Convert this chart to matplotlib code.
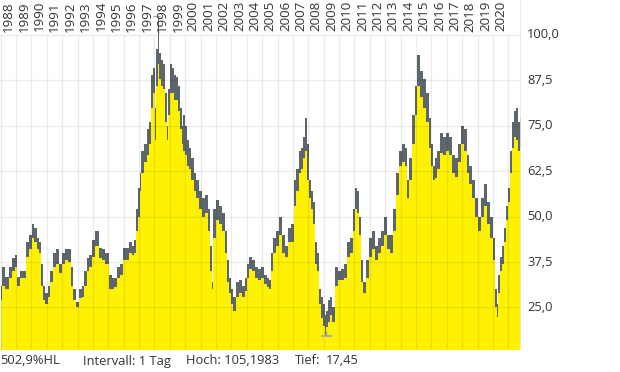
import matplotlib
matplotlib.use("Agg")
import matplotlib.pyplot as plt

# ---- data (decimal years, high / low values) ----
dates = [1988.00, 1988.16, 1988.42, 1988.61, 1988.81, 1989.00, 1989.13, 1989.39, 1989.59, 1989.72,
         1989.91, 1990.11, 1990.24, 1990.43, 1990.56, 1990.69, 1990.82, 1990.95, 1991.15, 1991.28,
         1991.47, 1991.67, 1991.86, 1992.06, 1992.25, 1992.45, 1992.64, 1992.77, 1992.97, 1993.16,
         1993.36, 1993.49, 1993.68, 1993.81, 1994.01, 1994.27, 1994.46, 1994.66, 1994.92, 1995.11,
         1995.31, 1995.44, 1995.63, 1995.83, 1996.02, 1996.22, 1996.41, 1996.61, 1996.74, 1996.87,
         1997.00, 1997.09, 1997.19, 1997.39, 1997.58, 1997.71, 1997.84, 1997.97, 1998.07, 1998.17,
         1998.26, 1998.36, 1998.49, 1998.62, 1998.75, 1998.85, 1998.95, 1999.08, 1999.21, 1999.34,
         1999.47, 1999.60, 1999.73, 1999.82, 1999.92, 2000.05, 2000.18, 2000.31, 2000.44, 2000.64,
         2000.77, 2000.96, 2001.16, 2001.35, 2001.55, 2001.68, 2001.77, 2001.87, 2002.07, 2002.26,
         2002.46, 2002.65, 2002.78, 2002.91, 2003.04, 2003.17, 2003.37, 2003.56, 2003.76, 2003.95,
         2004.08, 2004.21, 2004.41, 2004.60, 2004.80, 2004.99, 2005.19, 2005.38, 2005.51, 2005.64,
         2005.77, 2005.97, 2006.16, 2006.36, 2006.55, 2006.75, 2006.94, 2007.14, 2007.27, 2007.46,
         2007.59, 2007.72, 2007.85, 2007.98, 2008.11, 2008.24, 2008.37, 2008.50, 2008.63, 2008.76,
         2008.89, 2009.02, 2009.12, 2009.22, 2009.35, 2009.48, 2009.61, 2009.80, 2010.00, 2010.19,
         2010.39, 2010.58, 2010.78, 2010.97, 2011.10, 2011.23, 2011.36, 2011.49, 2011.62, 2011.82,
         2012.01, 2012.21, 2012.40, 2012.60, 2012.79, 2012.99, 2013.18, 2013.38, 2013.57, 2013.77,
         2013.96, 2014.16, 2014.35, 2014.48, 2014.61, 2014.81, 2015.00, 2015.16, 2015.33, 2015.52,
         2015.72, 2015.91, 2016.04, 2016.17, 2016.30, 2016.43, 2016.63, 2016.82, 2017.02, 2017.21,
         2017.41, 2017.60, 2017.80, 2017.99, 2018.19, 2018.38, 2018.51, 2018.71, 2018.90, 2019.10,
         2019.29, 2019.49, 2019.68, 2019.88, 2020.07, 2020.20, 2020.27, 2020.40, 2020.53, 2020.66,
         2020.79, 2020.92, 2021.05, 2021.18, 2021.31, 2021.44, 2021.57, 2021.70, 2021.83]

highs = [31.0, 36.0, 33.5, 36.0, 38.6, 39.5, 33.5, 35.0, 35.0, 43.0,
         45.0, 48.0, 47.0, 44.0, 43.0, 37.0, 31.0, 29.0, 31.0, 35.0,
         40.0, 41.0, 37.0, 40.0, 41.0, 41.0, 36.0, 30.0, 26.5, 30.0,
         31.0, 35.0, 38.5, 39.5, 43.5, 46.0, 41.5, 41.0, 40.0, 34.0,
         33.0, 33.0, 36.0, 37.0, 41.5, 41.5, 43.0, 42.0, 43.5, 52.0,
         58.0, 62.0, 68.0, 70.0, 74.0, 76.0, 89.0, 91.0, 80.0, 96.0,
         105.2, 95.0, 93.0, 92.0, 84.0, 75.0, 85.0, 92.0, 91.0, 89.0,
         88.5, 86.0, 80.0, 75.0, 78.0, 75.0, 71.0, 69.0, 66.0, 62.0,
         60.0, 57.0, 55.0, 56.0, 52.0, 42.0, 32.0, 52.0, 54.6, 53.0,
         51.0, 46.0, 38.0, 33.0, 30.0, 28.0, 32.0, 32.6, 31.0, 33.0,
         37.0, 39.0, 38.0, 36.0, 35.5, 36.0, 34.0, 33.0, 32.6, 40.0,
         44.0, 46.0, 50.0, 45.0, 42.0, 47.0, 48.0, 60.0, 63.0, 68.0,
         69.0, 72.0, 77.0, 70.0, 60.0, 57.0, 54.0, 43.0, 40.0, 30.0,
         28.0, 26.0, 23.0, 24.0, 27.0, 28.0, 25.0, 36.0, 35.0, 35.5,
         37.0, 43.0, 44.0, 52.0, 58.0, 57.0, 50.0, 38.0, 32.0, 38.0,
         44.0, 46.0, 42.0, 44.0, 46.0, 50.0, 45.0, 45.0, 52.0, 62.0,
         68.0, 70.0, 69.0, 60.0, 66.0, 78.0, 86.0, 94.5, 90.0, 88.0,
         84.0, 77.0, 70.0, 64.0, 66.0, 68.0, 73.0, 72.0, 73.0, 72.0,
         67.0, 66.0, 70.0, 75.0, 74.0, 67.0, 64.0, 60.0, 55.0, 50.0,
         55.0, 59.0, 54.0, 50.0, 44.0, 30.0, 26.0, 34.0, 39.0, 42.0,
         47.0, 53.0, 58.0, 68.0, 76.0, 79.0, 80.0, 76.0, 77.0]

lows = [27.0, 31.0, 30.0, 33.0, 35.0, 36.0, 31.0, 33.0, 33.0, 39.0,
        41.0, 44.0, 43.0, 41.0, 40.0, 31.0, 27.0, 26.0, 28.0, 32.0,
        36.0, 37.0, 34.5, 37.0, 38.0, 37.5, 31.0, 27.0, 25.0, 27.5,
        28.0, 31.0, 35.0, 36.0, 39.0, 42.0, 38.5, 38.0, 37.0, 30.0,
        30.0, 30.5, 33.0, 34.0, 38.0, 38.0, 40.0, 39.5, 40.0, 46.0,
        50.0, 57.0, 62.0, 65.0, 67.0, 70.0, 80.0, 84.0, 71.0, 86.0,
        92.0, 88.0, 86.0, 85.0, 76.0, 71.0, 78.0, 84.0, 84.0, 82.0,
        82.0, 79.0, 74.0, 70.0, 68.0, 67.0, 64.0, 63.0, 60.0, 57.0,
        55.0, 52.0, 50.0, 51.0, 46.0, 35.0, 30.0, 44.0, 49.0, 48.0,
        46.0, 40.0, 32.0, 29.0, 26.0, 24.0, 28.0, 29.0, 28.0, 29.5,
        33.0, 35.5, 35.0, 33.0, 32.5, 33.0, 31.5, 30.5, 30.0, 35.0,
        40.0, 42.0, 45.0, 40.0, 39.0, 43.0, 43.0, 53.0, 57.0, 62.0,
        63.0, 66.0, 68.0, 60.0, 55.0, 52.0, 48.0, 37.0, 35.0, 26.0,
        22.0, 20.0, 17.45, 19.5, 21.0, 23.0, 21.0, 31.0, 32.5, 32.5,
        33.0, 39.0, 40.0, 46.0, 52.0, 51.0, 45.0, 32.0, 29.0, 33.0,
        39.0, 41.0, 38.0, 40.0, 42.0, 45.0, 41.0, 40.0, 46.0, 56.0,
        64.0, 65.0, 64.0, 55.0, 60.0, 70.0, 78.0, 86.0, 83.0, 80.0,
        76.0, 69.0, 64.0, 60.0, 60.5, 63.0, 67.5, 67.0, 68.0, 67.0,
        62.0, 61.0, 65.0, 70.0, 68.0, 62.0, 59.0, 55.0, 50.0, 46.0,
        50.0, 53.0, 48.0, 44.0, 38.0, 25.0, 22.3, 29.0, 35.0, 37.0,
        43.0, 49.0, 54.0, 62.0, 69.0, 72.0, 71.0, 68.0, 69.0]

years = list(range(1988, 2022))
year_labels = [str(y) for y in range(1988, 2021)]
ytick_vals = [25.0, 37.5, 50.0, 62.5, 75.0, 87.5, 100.0]
ytick_labels = ["25,0", "37,5", "50,0", "62,5", "75,0", "87,5", "100,0"]
high_val, high_date = 105.1983, 1998.26
low_val, low_date = 17.45, 2009.12
info_texts = ["502,9%HL", "Intervall: 1 Tag", "Hoch: 105,1983", "Tief:", "17,45"]

# ---- style ----
plt.rcParams['font.family'] = ['Open Sans', 'DejaVu Sans']
YELLOW = '#fff200'
GREY = '#5e666d'
TXT = '#333333'
FS_YEAR = 9.6
FS_TICK = 9.3
FS_INFO = 9.3

W, H = 620, 372
fig = plt.figure(figsize=(W / 100, H / 100), dpi=100)
ax = fig.add_axes([0, 22 / H, 521 / W, 350 / H])
ymin, ymax = 13.3, 109.6
xmin, xmax = 1988.0 - 0.6 / 15.385, 1988.0 + 520.4 / 15.385
ax.set_xlim(xmin, xmax)
ax.set_ylim(ymin, ymax)
for s in ax.spines.values():
    s.set_visible(False)
ax.set_xticks([])
ax.set_yticks([])

ax.fill_between(dates, ymin, lows, step='mid', color=YELLOW, lw=0, zorder=1)
ax.fill_between(dates, lows, highs, step='mid', color=GREY, lw=0, zorder=2)

# grid
gcol = (0, 0, 0, 0.075)
for v in ytick_vals:
    ax.axhline(v, color=gcol, lw=1, zorder=3)
ax.vlines(years, ymin, 100.0, color=gcol, lw=1, zorder=3)
ax.axvline(xmax, color='#e6e6e6', lw=1.2, zorder=3)

# high / low markers
ax.hlines(high_val, high_date - 0.33, high_date + 0.1, color='#9ea3a8', lw=1, zorder=4)
ax.hlines(low_val - 0.4, low_date - 0.3, low_date + 0.4, color='#9ea3a8', lw=1.2, zorder=4)
ax.vlines(low_date + 0.02, low_val - 0.4, low_val + 1, color='#9ea3a8', lw=1, zorder=4)

# year labels (rotated, top)
for y, lab in zip(years, year_labels):
    ax.annotate(lab, xy=(y, 1), xycoords=('data', 'axes fraction'), xytext=(1.5, -1),
                textcoords='offset pixels', rotation=90, ha='left', va='top',
                fontsize=FS_YEAR, color=TXT, zorder=5)

# right tick labels
for v, lab in zip(ytick_vals, ytick_labels):
    fig.text(527 / W, ax.transData.transform((0, v))[1] / H, lab, ha='left', va='center',
             fontsize=FS_TICK, color=TXT)

# bottom info text
xs = [0, 83, 186, 295, 326]
for x, t in zip(xs, info_texts):
    fig.text(x / W, 1 - 361 / H, t, ha='left', va='center', fontsize=FS_INFO, color=TXT)

fig.savefig('out.png', dpi=100, facecolor='white')
